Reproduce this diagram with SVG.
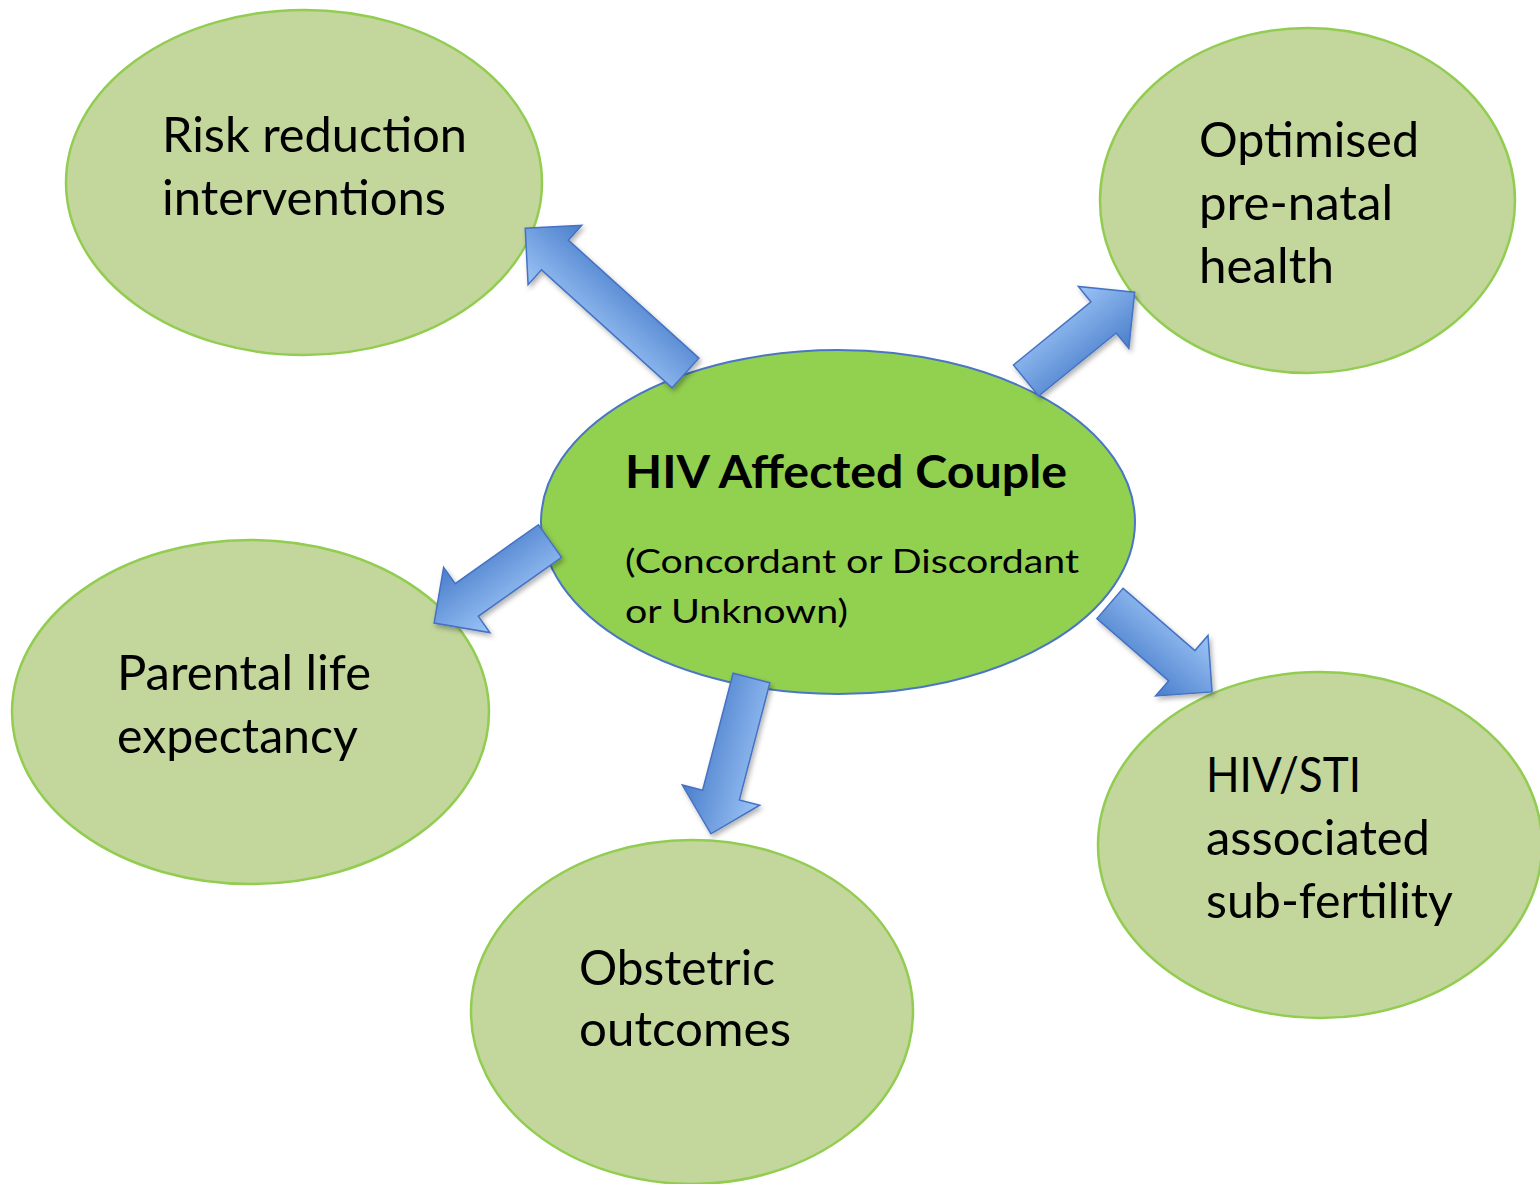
<svg xmlns="http://www.w3.org/2000/svg" width="1540" height="1184" viewBox="0 0 1540 1184">
<style>
.outer{fill:#C3D69B;stroke:#92CD52;stroke-width:2.5}
.center{fill:#92D050;stroke:#4A76C4;stroke-width:2}
.lbl{font-family:Lato,"Open Sans","Liberation Sans",sans-serif;font-size:49px;fill:#000}
.title{font-family:Lato,"Open Sans","Liberation Sans",sans-serif;font-size:46px;font-weight:bold;fill:#000}
.sub{font-family:Lato,"Open Sans","Liberation Sans",sans-serif;font-size:33px;fill:#000}
.arrow{fill:url(#ag);stroke:#4472C4;stroke-width:1.5;stroke-linejoin:miter}
</style>
<defs>
<linearGradient id="ag" x1="0" y1="0" x2="0" y2="1">
<stop offset="0" stop-color="#9CC4F6"/>
<stop offset="1" stop-color="#4A7ECB"/>
</linearGradient>
<filter id="sh" x="-20%" y="-20%" width="140%" height="140%">
<feDropShadow dx="2" dy="3" stdDeviation="2.5" flood-color="#000" flood-opacity="0.3"/>
</filter>
</defs>
<rect width="1540" height="1184" fill="#FFFFFF"/>

<g id="node-risk">
<ellipse class="outer" cx="304" cy="182.5" rx="238" ry="172.5"/>
<text class="lbl" x="162" y="152" textLength="305" lengthAdjust="spacingAndGlyphs">Risk reduction</text>
<text class="lbl" x="162" y="215" textLength="284" lengthAdjust="spacingAndGlyphs">interventions</text>
</g>

<g id="node-prenatal">
<ellipse class="outer" cx="1307.5" cy="200.5" rx="207.5" ry="172.5"/>
<text class="lbl" x="1199" y="157" textLength="220" lengthAdjust="spacingAndGlyphs">Optimised</text>
<text class="lbl" x="1199" y="220" textLength="194" lengthAdjust="spacingAndGlyphs">pre-natal</text>
<text class="lbl" x="1199" y="283" textLength="135" lengthAdjust="spacingAndGlyphs">health</text>
</g>

<g id="node-parental">
<ellipse class="outer" cx="250.5" cy="712" rx="238.5" ry="172"/>
<text class="lbl" x="117" y="690" textLength="254" lengthAdjust="spacingAndGlyphs">Parental life</text>
<text class="lbl" x="117" y="753" textLength="241" lengthAdjust="spacingAndGlyphs">expectancy</text>
</g>

<g id="node-obstetric">
<ellipse class="outer" cx="692" cy="1012" rx="221" ry="172"/>
<text class="lbl" x="579" y="985" textLength="196" lengthAdjust="spacingAndGlyphs">Obstetric</text>
<text class="lbl" x="579" y="1046" textLength="212" lengthAdjust="spacingAndGlyphs">outcomes</text>
</g>

<g id="node-subfertility">
<ellipse class="outer" cx="1320" cy="845" rx="222" ry="173"/>
<text class="lbl" x="1206" y="792" textLength="155" lengthAdjust="spacingAndGlyphs">HIV/STI</text>
<text class="lbl" x="1206" y="855" textLength="224" lengthAdjust="spacingAndGlyphs">associated</text>
<text class="lbl" x="1206" y="918" textLength="247" lengthAdjust="spacingAndGlyphs">sub-fertility</text>
</g>

<g id="node-couple">
<ellipse class="center" cx="838" cy="522" rx="297" ry="172"/>
<text class="title" x="625" y="488" textLength="442" lengthAdjust="spacingAndGlyphs">HIV Affected Couple</text>
<text class="sub" x="625" y="573" textLength="454" lengthAdjust="spacingAndGlyphs">(Concordant or Discordant</text>
<text class="sub" x="625" y="623" textLength="223" lengthAdjust="spacingAndGlyphs">or Unknown)</text>
</g>

<g id="connectors">
<g filter="url(#sh)"><path class="arrow" transform="translate(685.5,373) rotate(-137.9)" d="M0,-20 L176,-20 L176,-40 L216,0 L176,40 L176,20 L0,20 Z"/></g>
<g filter="url(#sh)"><path class="arrow" transform="translate(1026,380.5) rotate(-39.1)" d="M0,-20 L100,-20 L100,-40 L140,0 L100,40 L100,20 L0,20 Z"/></g>
<g filter="url(#sh)"><path class="arrow" transform="translate(550,541) rotate(144.7)" d="M0,-20 L102,-20 L102,-40 L142,0 L102,40 L102,20 L0,20 Z"/></g>
<g filter="url(#sh)"><path class="arrow" transform="translate(751.5,678) rotate(104.6)" d="M0,-19 L121,-19 L121,-40 L161,0 L121,40 L121,19 L0,19 Z"/></g>
<g filter="url(#sh)"><path class="arrow" transform="translate(1110,603.5) rotate(40.9)" d="M0,-20 L95,-20 L95,-40 L135,0 L95,40 L95,20 L0,20 Z"/></g>
</g>
</svg>
